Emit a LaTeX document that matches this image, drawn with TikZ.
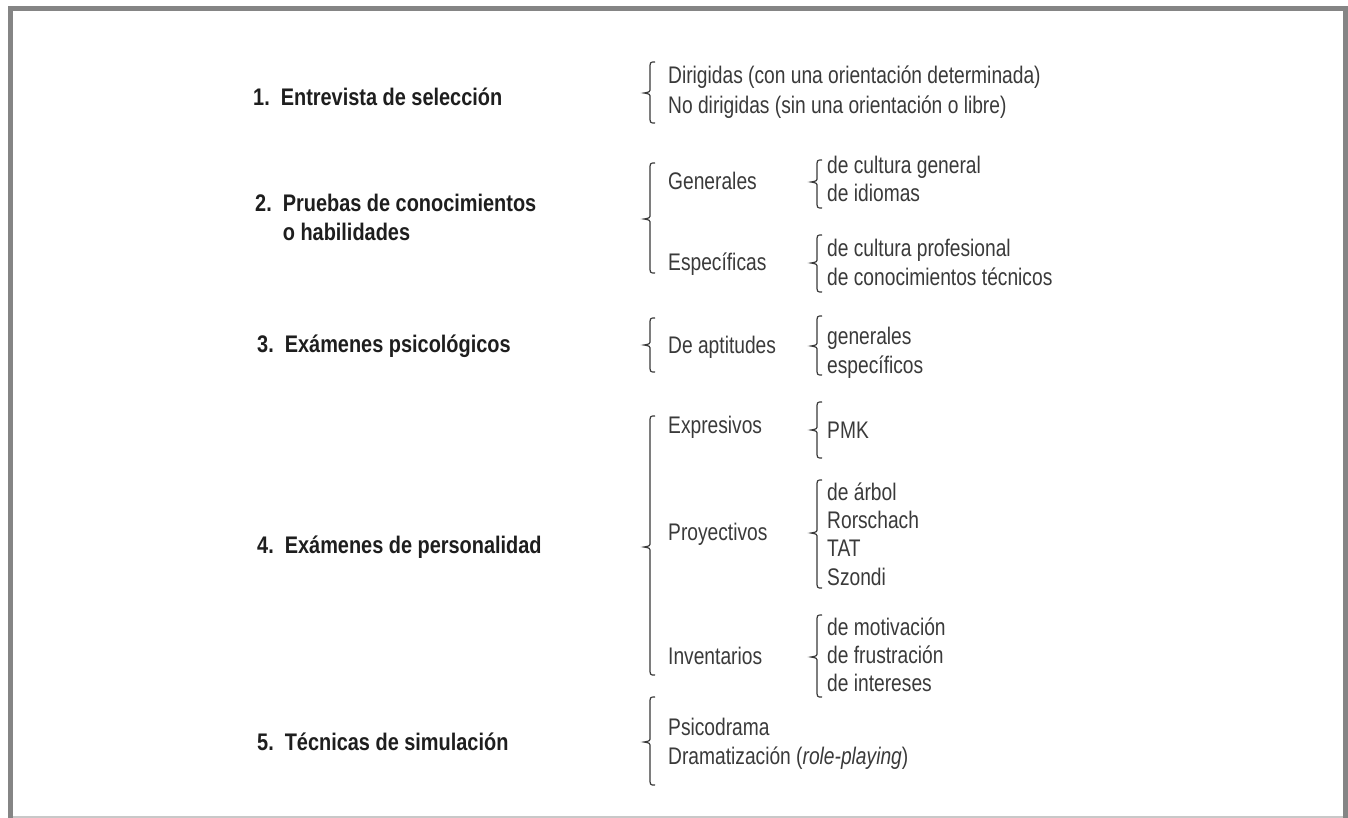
\documentclass[tikz,border=0pt]{standalone}
\usepackage{fontspec}
\setmainfont[FakeStretch=0.8,BoldFeatures={FakeStretch=0.83}]{Liberation Sans}
\definecolor{framegray}{HTML}{858585}
\definecolor{linegray}{HTML}{C8C8C8}
\definecolor{txtgray}{HTML}{3A3A3A}
\definecolor{boldgray}{HTML}{1E1E1E}
\newcommand{\mybrace}[4]{% x, top, tip, bottom
  \draw[bracestyle] ({#1+5},{#2}) .. controls ({#1},{#2}) .. ({#1},{#2+7})
    -- ({#1},{#3-5}) .. controls ({#1},{#3-1}) .. ({#1-6},{#3})
    .. controls ({#1},{#3+1}) .. ({#1},{#3+5})
    -- ({#1},{#4-7}) .. controls ({#1},{#4}) .. ({#1+5},{#4});}
\begin{document}
\begin{tikzpicture}[x=1pt,y=-1pt,
  item/.style={anchor=west,inner sep=0pt,text height=17pt,text depth=0pt,
    font=\fontsize{24}{29}\selectfont,text=txtgray},
  head/.style={anchor=west,inner sep=0pt,align=left,
    font=\fontsize{24}{29}\selectfont\bfseries,text=boldgray},
  bracestyle/.style={draw=txtgray,line width=1.2pt}]
\useasboundingbox (0,0) rectangle (1348,818);
% frame
\fill[white] (0,0) rectangle (1348,818);
\fill[framegray] (8,6) rectangle (1348,11);
\fill[framegray] (8,6) rectangle (13,818);
\fill[framegray] (1343,6) rectangle (1348,818);
\draw[linegray,line width=1.5pt] (13,817) -- (1343,817);
% headings
\node[head] (h1) at (253,97) {1.\hspace{11pt}Entrevista de selección};
\node[head] (h2) at (255,217.5) {2.\hspace{11pt}Pruebas de conocimientos\\\hphantom{2.\hspace{11pt}}o habilidades};
\node[head] (h3) at (257,346) {3.\hspace{11pt}Exámenes psicológicos};
\node[head] (h4) at (257,547) {4.\hspace{11pt}Exámenes de personalidad};
\node[head] (h5) at (257,742) {5.\hspace{11pt}Técnicas de simulación};
% group 1
\mybrace{650}{62}{93}{123}
\node[item] (d1) at (668,75.5) {Dirigidas (con una orientación determinada)};
\node[item] (d2) at (668,105.5) {No dirigidas (sin una orientación o libre)};
% group 2
\mybrace{650}{163}{219}{273}
\node[item] (gen) at (668,181) {Generales};
\node[item] (esp) at (668,262) {Específicas};
\mybrace{817}{160}{182}{208}
\node[item] (g1) at (827,165) {de cultura general};
\node[item] (g2) at (827,193) {de idiomas};
\mybrace{817}{235}{263}{292}
\node[item] (e1) at (827,248) {de cultura profesional};
\node[item] (e2) at (827,277) {de conocimientos técnicos};
% group 3
\mybrace{650}{318}{345}{372}
\node[item] (apt) at (668,345) {De aptitudes};
\mybrace{817}{316}{346}{375}
\node[item] (a1) at (827,336) {generales};
\node[item] (a2) at (827,365) {específicos};
% group 4
\mybrace{650}{416}{547}{675}
\node[item] (exp) at (668,425) {Expresivos};
\node[item] (pro) at (668,532) {Proyectivos};
\node[item] (inv) at (668,656) {Inventarios};
\mybrace{817}{402}{430}{458}
\node[item] (pmk) at (827,430) {PMK};
\mybrace{817}{480}{533}{588}
\node[item] (p1) at (827,492) {de árbol};
\node[item] (p2) at (827,520) {Rorschach};
\node[item] (p3) at (827,548) {TAT};
\node[item] (p4) at (827,577) {Szondi};
\mybrace{817}{615}{657}{697}
\node[item] (i1) at (827,627) {de motivación};
\node[item] (i2) at (827,655) {de frustración};
\node[item] (i3) at (827,683) {de intereses};
% group 5
\mybrace{650}{697}{742}{785}
\node[item] (s1) at (668,727) {Psicodrama};
\node[item] (s2) at (668,756) {Dramatización (\textit{role-playing})};
\end{tikzpicture}
\end{document}
